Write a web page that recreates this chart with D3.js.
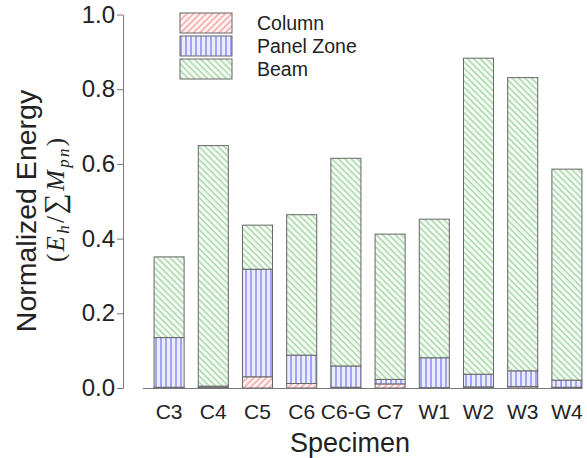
<!DOCTYPE html>
<html lang="en">
<head>
  <meta charset="UTF-8">
  <title>Normalized Energy by Specimen</title>
  <style>
    body {
      margin: 0;
      background: white;
      overflow: hidden;
    }
    text {
      font-family: "Liberation Sans", Arial, sans-serif;
      fill: #222;
    }
    .axis path, .axis line {
      stroke: #777;
    }
    .seg {
      stroke: #666;
      stroke-width: 1;
    }
  </style>
</head>
<body>
  <script src="https://d3js.org/d3.v7.min.js"></script>
  <script>
    const width = 587;
    const height = 458;

    // data
    const specimens = ["C3", "C4", "C5", "C6", "C6-G", "C7", "W1", "W2", "W3", "W4"];
    const column    = [0.002, 0.001, 0.030, 0.012, 0.002, 0.011, 0.001, 0.003, 0.004, 0.002];
    const panelZone = [0.133, 0.004, 0.288, 0.076, 0.057, 0.012, 0.080, 0.034, 0.042, 0.019];
    const beam      = [0.216, 0.644, 0.118, 0.376, 0.556, 0.389, 0.371, 0.846, 0.785, 0.565];
    const components = ["Column", "Panel Zone", "Beam"];
    const yTicks = [0, 0.2, 0.4, 0.6, 0.8, 1.0];

    const rows = specimens.map((s, i) => ({
      specimen: s,
      "Column": column[i],
      "Panel Zone": panelZone[i],
      "Beam": beam[i]
    }));

    const svg = d3.select("body").append("svg")
      .attr("width", width)
      .attr("height", height);

    // hatch patterns
    const defs = svg.append("defs");
    const hatch = [
      { id: "hatch-col", bg: "#fff3f3", line: "#ef8a8a", rot: 45 },
      { id: "hatch-pz", bg: "#ececff", line: "#6a6af0", rot: 0 },
      { id: "hatch-beam", bg: "#f4fbf4", line: "#8fcc8f", rot: -45 }
    ];
    hatch.forEach(h => {
      const p = defs.append("pattern")
        .attr("id", h.id)
        .attr("patternUnits", "userSpaceOnUse")
        .attr("width", h.rot === 0 ? 5 : 4.5)
        .attr("height", h.rot === 0 ? 5 : 4.5)
        .attr("patternTransform", "rotate(" + h.rot + ")");
      p.append("rect")
        .attr("width", 10).attr("height", 10)
        .attr("fill", h.bg);
      p.append("line")
        .attr("x1", 1).attr("y1", 0)
        .attr("x2", 1).attr("y2", 10)
        .attr("stroke", h.line)
        .attr("stroke-width", 1.1);
    });
    const fills = { "Column": "url(#hatch-col)", "Panel Zone": "url(#hatch-pz)", "Beam": "url(#hatch-beam)" };

    const x = d3.scaleBand()
      .domain(specimens)
      .range([147, 589])
      .paddingInner(0.32)
      .paddingOuter(0.16);

    const y = d3.scaleLinear()
      .domain([0, 1])
      .range([388, 14.5]);

    const series = d3.stack().keys(components)(rows);

    svg.append("g")
      .selectAll("g")
      .data(series)
      .enter()
      .append("g")
      .attr("fill", d => fills[d.key])
      .selectAll("rect")
      .data(d => d)
      .enter()
      .append("rect")
      .attr("class", "seg")
      .attr("x", d => x(d.data.specimen))
      .attr("width", x.bandwidth())
      .attr("y", d => y(d[1]))
      .attr("height", d => y(d[0]) - y(d[1]));

    // baseline
    svg.append("line")
      .attr("x1", 143).attr("x2", 582)
      .attr("y1", y(0) + 0.5).attr("y2", y(0) + 0.5)
      .attr("stroke", "#777");

    // y axis
    const yAxis = svg.append("g")
      .attr("class", "axis")
      .attr("transform", "translate(123,0)")
      .call(d3.axisLeft(y).tickValues(yTicks).tickFormat(d3.format(".1f")).tickSize(6).tickSizeOuter(0));
    yAxis.selectAll("text")
      .style("font-size", "24px")
      .attr("x", -8)
      .attr("fill", "#222");

    // x labels
    svg.append("g")
      .selectAll("text")
      .data(specimens)
      .enter()
      .append("text")
      .attr("x", d => x(d) + x.bandwidth() / 2)
      .attr("y", 419)
      .attr("text-anchor", "middle")
      .style("font-size", "21px")
      .text(d => d);

    svg.append("text")
      .attr("x", 350)
      .attr("y", 452)
      .attr("text-anchor", "middle")
      .style("font-size", "27px")
      .text("Specimen");

    // y title
    svg.append("text")
      .attr("transform", "translate(36,211) rotate(-90)")
      .attr("text-anchor", "middle")
      .style("font-size", "28.5px")
      .text("Normalized Energy");

    const sub = svg.append("text")
      .attr("transform", "translate(64,200) rotate(-90)")
      .attr("text-anchor", "middle")
      .attr("textLength", 124)
      .attr("lengthAdjust", "spacing")
      .style("font-family", "'Liberation Serif', 'DejaVu Serif', serif")
      .style("font-size", "25px");
    sub.append("tspan").text("(");
    sub.append("tspan").style("font-style", "italic").text("E");
    sub.append("tspan").style("font-style", "italic").style("font-size", "17px").attr("dy", 5).text("h");
    sub.append("tspan").attr("dy", -5).text("/");
    sub.append("tspan").style("font-size", "29px").text("∑");
    sub.append("tspan").style("font-style", "italic").text("M");
    sub.append("tspan").style("font-style", "italic").style("font-size", "17px").attr("dy", 5).text("pn");
    sub.append("tspan").attr("dy", -5).text(")");

    // legend
    const legend = svg.append("g")
      .selectAll("g")
      .data(components)
      .enter()
      .append("g")
      .attr("transform", (d, i) => "translate(180," + (13 + i * 23) + ")");
    legend.append("rect")
      .attr("class", "seg")
      .attr("width", 52)
      .attr("height", 20)
      .attr("fill", d => fills[d]);
    legend.append("text")
      .attr("x", 77)
      .attr("y", 10)
      .attr("dy", "0.35em")
      .style("font-size", "19.5px")
      .text(d => d);
  </script>
</body>
</html>
